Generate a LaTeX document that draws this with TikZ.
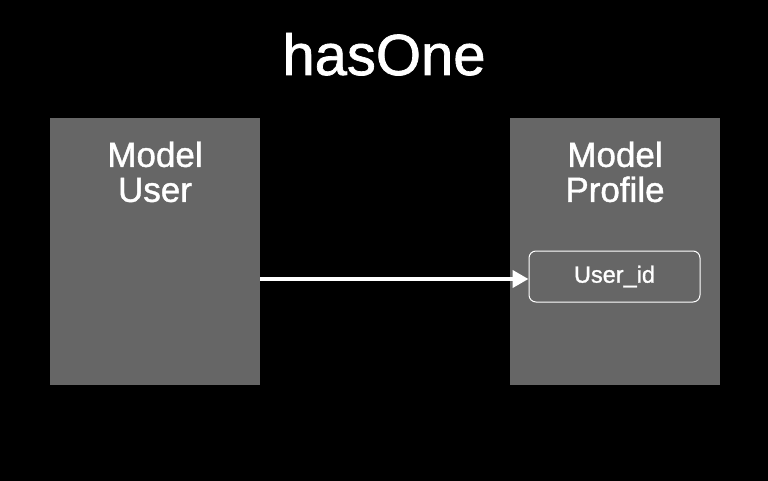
\documentclass[tikz,border=0pt]{standalone}
\usepackage{fontspec}
\setmainfont{Liberation Sans}[AutoFakeBold=1.2]
\usetikzlibrary{arrows.meta,positioning}
\definecolor{slideGray}{RGB}{102,102,102}

\begin{document}
\begin{tikzpicture}[x=1pt,y=-1pt,>=Latex]
\fill[black] (0,0) rectangle (768,481);
\useasboundingbox (0,0) rectangle (768,481);
\node[text=white,font=\bfseries\fontsize{58}{62}\selectfont,anchor=base,inner sep=0pt] (title) at (384,75) {hasOne};
\node[fill=slideGray,minimum width=210pt,minimum height=267pt,inner sep=0pt] (user) at (155,251.5) {};
\node[fill=slideGray,minimum width=210pt,minimum height=267pt,inner sep=0pt] (profile) at (615,251.5) {};
\node[text=white,align=center,font=\bfseries\fontsize{35}{35}\selectfont,inner sep=0pt,below=23.5pt of user.north,anchor=north] (userlabel) {Model\\User};
\node[text=white,align=center,font=\bfseries\fontsize{35}{35}\selectfont,inner sep=0pt,below=23.5pt of profile.north,anchor=north] (profilelabel) {Model\\Profile};
\node[draw=white,line width=1pt,rounded corners=7pt,fill=slideGray,text=white,font=\bfseries\fontsize{23.5}{26}\selectfont,minimum width=171pt,minimum height=51pt,inner sep=0pt] (userid) at (614.5,276.5) {User\_id};
\coordinate (arrowy) at (0,279);
\draw[->,white,line width=4.5pt,arrows={-Triangle[length=16pt,width=17pt]}] (user.east |- arrowy) -- (userid.west |- arrowy);
\end{tikzpicture}
\end{document}
